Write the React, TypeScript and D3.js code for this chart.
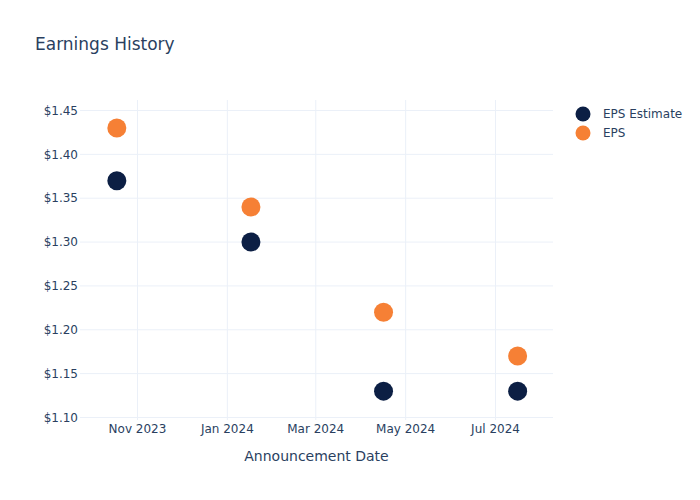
import React from "react";
import * as d3 from "d3";

const dates = ["2023-10-18", "2024-01-17", "2024-04-16", "2024-07-16"];
const epsEstimate = [1.37, 1.3, 1.13, 1.13];
const eps = [1.43, 1.34, 1.22, 1.17];
const yTicks = [1.1, 1.15, 1.2, 1.25, 1.3, 1.35, 1.4, 1.45];
const xTickDates = ["2023-11-01", "2024-01-01", "2024-03-01", "2024-05-01", "2024-07-01"];
const seriesNames = ["EPS Estimate", "EPS"];
const colors = ["#0c1f44", "#f68035"];

const W = 700, H = 500;
const L = 80, R = 553, T = 100, B = 420;
const font = "'DejaVu Sans', Verdana, sans-serif";
const textColor = "#2a3f5f";
const grid = "#ebf0f8";

export default function App() {
  const parse = d3.utcParse("%Y-%m-%d");
  const x = d3.scaleUtc()
    .domain([parse("2023-09-23")!, parse("2024-08-09")!])
    .range([L, R]);
  const y = d3.scaleLinear().domain([1.0971, 1.462]).range([B, T]);
  const fmtX = d3.utcFormat("%b %Y");
  const series = [epsEstimate, eps];

  return (
    <svg width={W} height={H} style={{ position: "absolute", left: 0, top: 0, fontFamily: font }}>
      <rect width={W} height={H} fill="#fff" />
      {xTickDates.map((d) => {
        const px = x(parse(d)!);
        return <line key={d} x1={px} x2={px} y1={T} y2={B} stroke={grid} strokeWidth={1} />;
      })}
      {yTicks.map((v) => (
        <line key={v} x1={L} x2={R} y1={y(v)} y2={y(v)} stroke={grid} strokeWidth={1} />
      ))}
      {yTicks.map((v) => (
        <text key={v} x={L - 2} y={y(v)} dy="0.35em" textAnchor="end" fontSize={12} fill={textColor}>
          {"$" + v.toFixed(2)}
        </text>
      ))}
      {xTickDates.map((d) => (
        <text key={d} x={x(parse(d)!)} y={B + 13} textAnchor="middle" fontSize={12} fill={textColor}>
          {fmtX(parse(d)!)}
        </text>
      ))}
      <text x={(L + R) / 2} y={461} textAnchor="middle" fontSize={14} fill={textColor}>
        Announcement Date
      </text>
      <text x={35} y={50} fontSize={17} fill={textColor}>Earnings History</text>
      {series.map((vals, si) =>
        vals.map((v, i) => (
          <circle key={si + "-" + i} cx={x(parse(dates[i])!)} cy={y(v)} r={9.5} fill={colors[si]} />
        ))
      )}
      {seriesNames.map((n, i) => (
        <g key={n} transform={`translate(0, ${114 + i * 19})`}>
          <circle cx={583} cy={0} r={7.5} fill={colors[i]} />
          <text x={603} y={0} dy="0.35em" fontSize={12} fill={textColor}>{n}</text>
        </g>
      ))}
    </svg>
  );
}
